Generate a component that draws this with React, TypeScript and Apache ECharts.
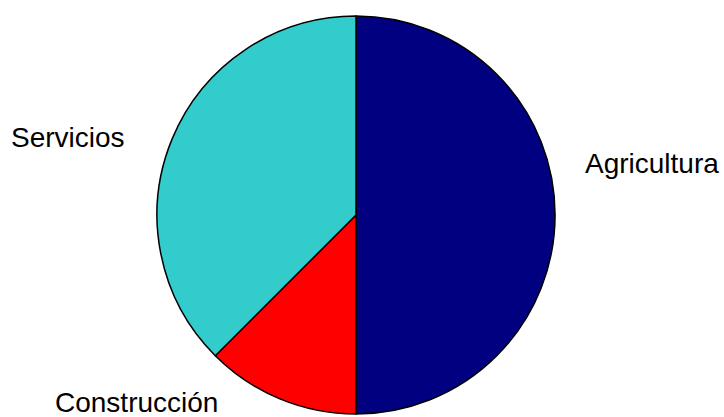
import React, { useEffect, useRef } from "react";
import * as echarts from "echarts";

// Sector shares of employment
const sectors = ["Agricultura", "Construcción", "Servicios"];
const shares = [4, 1, 3];
const sectorColors = ["#000080", "#FF0000", "#33CCCC"];

export default function App() {
  const ref = useRef<HTMLDivElement>(null);

  useEffect(() => {
    document.body.style.margin = "0";
    if (!ref.current) return;
    const chart = echarts.init(ref.current, null, { renderer: "svg" });

    // Label anchors (left edge, vertical middle) for each slice
    const labelAnchors: [number, number][] = [
      [585, 163],
      [55, 402],
      [11, 137],
    ];

    chart.setOption({
      animation: false,
      backgroundColor: "#ffffff",
      series: [
        {
          type: "pie",
          center: [356, 215],
          radius: 199,
          startAngle: 90,
          clockwise: true,
          avoidLabelOverlap: false,
          itemStyle: { borderColor: "#000000", borderWidth: 1.5 },
          label: {
            show: true,
            position: "outside",
            color: "#000000",
            fontFamily: "Liberation Sans, Arial, sans-serif",
            fontSize: 28,
            lineHeight: 28,
            formatter: "{b}",
          },
          labelLine: { show: false },
          labelLayout: (params: any) => {
            const a = labelAnchors[params.dataIndex];
            return { x: a[0], y: a[1], align: "left", verticalAlign: "middle" };
          },
          emphasis: { disabled: true },
          data: sectors.map((name, i) => ({
            name,
            value: shares[i],
            itemStyle: { color: sectorColors[i] },
          })),
        },
      ],
    });

    return () => chart.dispose();
  }, []);

  return <div ref={ref} style={{ width: 724, height: 417 }} />;
}
